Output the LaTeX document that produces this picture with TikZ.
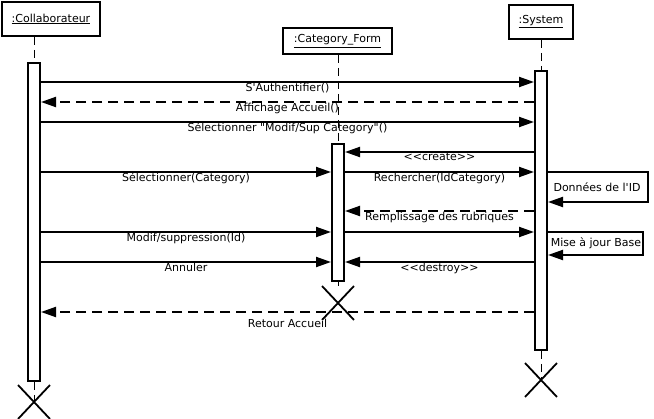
\documentclass[tikz,border=0pt]{standalone}
\usepackage{fontspec}
\newfontfamily\umlfont{DejaVu Sans}[Ligatures=TeXOff]
\usetikzlibrary{arrows.meta,shapes.misc}

\begin{document}
\begin{tikzpicture}[x=1pt,y=-1pt,
  every node/.style={font=\umlfont\fontsize{11}{13}\selectfont},
  obj/.style={draw,line width=2pt,inner sep=0pt},
  bar/.style={draw,line width=2pt,fill=white,minimum width=12pt,inner sep=0pt},
  life/.style={line width=1pt,dash pattern=on 8pt off 5pt},
  msg/.style={line width=2pt,-{Triangle[length=15pt,width=10pt]}},
  ret/.style={msg,dash pattern=on 10pt off 6pt},
  lbl/.style={midway,below,inner sep=0pt},
  kill/.style={draw,cross out,line width=1.8pt,minimum width=30pt,minimum height=32pt,inner sep=0pt}]
\path[use as bounding box,fill=white] (0,0) rectangle (654,419);

% objects
\node[obj,minimum width=98pt,minimum height=34pt] (colab) at (51,19) {\underline{:Collaborateur}};
\node[obj,minimum width=109pt,minimum height=26pt] (form) at (337.5,41) {\underline{:Category\_Form}};
\node[obj,minimum width=64pt,minimum height=34pt] (sys) at (541,22) {\underline{:System}};

% activation bars
\node[bar,minimum height=318pt] (colbar) at (34,222) {};
\node[bar,minimum height=137pt] (formbar) at (338,212.5) {};
\node[bar,minimum height=279pt] (sysbar) at (541,210.5) {};

% destruction
\node[kill] (colx) at (34,402) {};
\node[kill] (formx) at (338,303) {};
\node[kill] (sysx) at (541,380) {};

% lifelines
\draw[life] (colbar.north |- colab.south) -- (colbar.north);
\draw[life] (formbar.north |- form.south) -- (formbar.north);
\draw[life] (sysbar.north |- sys.south) -- (sysbar.north);
\draw[life] (colbar.south) -- (colx.center);
\draw[life] (formbar.south) -- (formx.north);
\draw[life] (sysbar.south) -- (sysx.center);

% message levels
\coordinate (auth) at (0,82);
\coordinate (accueil) at (0,102);
\coordinate (choix) at (0,122);
\coordinate (create) at (0,152);
\coordinate (select) at (0,172);
\coordinate (donnees) at (0,202);
\coordinate (rempl) at (0,211);
\coordinate (modif) at (0,232);
\coordinate (maj) at (0,255);
\coordinate (annul) at (0,262);
\coordinate (retour) at (0,312);

% messages
\draw[msg] (colbar.east |- auth) -- (sysbar.west |- auth) node[lbl]{S'Authentifier()};
\draw[ret] (sysbar.west |- accueil) -- (colbar.east |- accueil) node[lbl]{Affichage Accueil()};
\draw[msg] (colbar.east |- choix) -- (sysbar.west |- choix) node[lbl]{Sélectionner "Modif/Sup Category"()};
\draw[msg] (sysbar.west |- create) -- (formbar.east |- create) node[lbl]{<<create>>};
\draw[msg] (colbar.east |- select) -- (formbar.west |- select) node[lbl]{Sélectionner(Category)};
\draw[msg] (formbar.east |- select) -- (sysbar.west |- select) node[lbl]{Rechercher(IdCategory)};
\draw[msg] (sysbar.east |- select) -- ++(100,0) |- (sysbar.east |- donnees);
\node (donneestxt) at (597,187) {Données de l'ID};
\draw[ret] (sysbar.west |- rempl) -- (formbar.east |- rempl) node[lbl]{Remplissage des rubriques};
\draw[msg] (colbar.east |- modif) -- (formbar.west |- modif) node[lbl]{Modif/suppression(Id)};
\draw[msg] (formbar.east |- modif) -- (sysbar.west |- modif);
\draw[msg] (sysbar.east |- modif) -- ++(95,0) |- (sysbar.east |- maj);
\node (majtxt) at (596,243) {Mise à jour Base};
\draw[msg] (colbar.east |- annul) -- (formbar.west |- annul) node[lbl]{Annuler};
\draw[msg] (sysbar.west |- annul) -- (formbar.east |- annul) node[lbl]{<<destroy>>};
\draw[ret] (sysbar.west |- retour) -- (colbar.east |- retour) node[lbl,yshift=-6pt]{Retour Accueil};
\end{tikzpicture}
\end{document}
